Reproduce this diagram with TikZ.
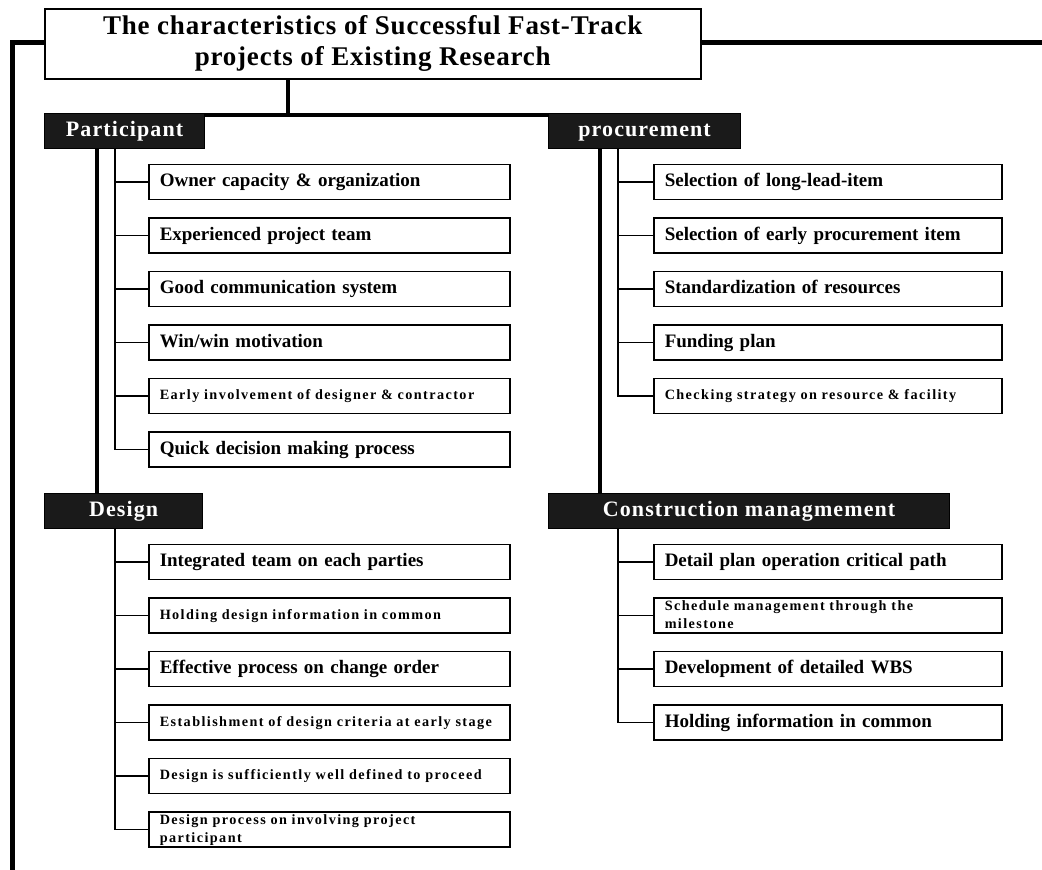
\documentclass[tikz,border=0pt]{standalone}
\usepackage{fontspec}
\setmainfont{Liberation Serif}
\newfontfamily\trackfont{Liberation Serif}[LetterSpace=10]
\newfontfamily\headfont{Liberation Serif}[LetterSpace=5]
\newfontfamily\titlefont{Liberation Serif}[LetterSpace=3]
\newcommand\tightwords{\spaceskip=0.2em plus 0.05em\relax}
\usetikzlibrary{positioning,calc}
\definecolor{chead}{RGB}{26,26,26}

\tikzset{
  titlebox/.style={draw, line width=1.5pt, fill=white, minimum width=656pt,
    minimum height=70pt, align=center, inner sep=0pt,
    font=\titlefont\bfseries\fontsize{27}{31}\selectfont},
  headbox/.style={draw=black, line width=1.2pt, fill=chead, text=white,
    minimum height=35pt, inner sep=0pt, text height=15pt, text depth=5pt,
    font=\headfont\bfseries\fontsize{22}{26}\selectfont},
  itembox/.style={draw, line width=1.5pt, fill=white, minimum height=35pt,
    text width=339pt, inner xsep=11pt, inner ysep=0.5pt, align=left,
    text height=13.5pt, text depth=4.5pt,
    font=\bfseries\fontsize{19}{22}\selectfont\tightwords},
  ritem/.style={itembox, text width=326pt},
  smalltext/.style={text height=10.5pt, text depth=3.5pt,
    font=\trackfont\bfseries\fontsize{14.2}{18}\selectfont},
  twolines/.style={smalltext, text depth=21.5pt},
  framebar/.style={line width=5pt},
  trunk/.style={line width=4pt},
  twig/.style={line width=1.5pt}
}

\begin{document}
\begin{tikzpicture}[x=1pt, y=-1pt, node distance=17pt]
  \useasboundingbox (0,0) rectangle (1042,870);

  % title and the four groups
  \node[titlebox, anchor=north west] (T) at (44,8)
       {The characteristics of Successful Fast-Track\\projects of Existing Research};
  \node[headbox, minimum width=160pt, anchor=north west] (P) at (44,113) {Participant};
  \node[headbox, minimum width=192pt, anchor=north west] (R) at (548,113) {procurement};
  \node[headbox, minimum width=158pt, anchor=north west] (D) at (44,493) {Design};
  \node[headbox, minimum width=401pt, anchor=north west] (C) at (548,493) {Construction managmement};

  % participant
  \node[itembox, anchor=west] (p1) at (148,182) {Owner capacity \& organization};
  \node[itembox, below=of p1] (p2) {Experienced project team};
  \node[itembox, below=of p2] (p3) {Good communication system};
  \node[itembox, below=of p3] (p4) {Win/win motivation};
  \node[itembox, smalltext, below=of p4] (p5) {Early involvement of designer \& contractor};
  \node[itembox, below=of p5] (p6) {Quick decision making process};

  % procurement
  \node[ritem, anchor=west] (r1) at (653,182) {Selection of long-lead-item};
  \node[ritem, below=of r1] (r2) {Selection of early procurement item};
  \node[ritem, below=of r2] (r3) {Standardization of resources};
  \node[ritem, below=of r3] (r4) {Funding plan};
  \node[ritem, smalltext, below=of r4] (r5) {Checking strategy on resource \& facility};

  % design
  \node[itembox, anchor=west] (d1) at (148,562) {Integrated team on each parties};
  \node[itembox, smalltext, below=of d1] (d2) {Holding design information in common};
  \node[itembox, below=of d2] (d3) {Effective process on change order};
  \node[itembox, smalltext, below=of d3] (d4) {Establishment of design criteria at early stage};
  \node[itembox, smalltext, below=of d4] (d5) {Design is sufficiently well defined to proceed};
  \node[itembox, twolines, below=of d5] (d6) {Design process on involving project\\participant};

  % construction management
  \node[ritem, anchor=west] (c1) at (653,562) {Detail plan operation critical path};
  \node[ritem, twolines, below=of c1] (c2) {Schedule management through the\\milestone};
  \node[ritem, below=of c2] (c3) {Development of detailed WBS};
  \node[ritem, below=of c3] (c4) {Holding information in common};

  % outer frame
  \coordinate (fbot) at (12,870);
  \coordinate (fend) at (1042,42);
  \coordinate (hub) at (288,115);
  \draw[framebar] (T.west |- fend) -| (fbot);
  \draw[framebar] (T.east |- fend) -- (fend);

  % title to groups
  \draw[trunk] (T.south -| hub) -- (hub);
  \draw[trunk] (P.north east |- hub) -- (R.north west |- hub);
  \draw[trunk] ($(P.south west)+(53,0)$) -- ($(D.north west)+(53,0)$);
  \draw[trunk] ($(R.south west)+(52,0)$) -- ($(C.north west)+(52,0)$);

  % branches
  \coordinate (ps) at ($(P.south west)+(71,0)$);
  \coordinate (rs) at ($(R.south west)+(70,0)$);
  \coordinate (ds) at ($(D.south west)+(71,0)$);
  \coordinate (cs) at ($(C.south west)+(70,0)$);
  \draw[twig] (ps) |- (p6.west);
  \foreach \n in {p1,p2,p3,p4,p5} \draw[twig] (ps |- \n.west) -- (\n.west);
  \draw[twig] (rs) |- (r5.west);
  \foreach \n in {r1,r2,r3,r4} \draw[twig] (rs |- \n.west) -- (\n.west);
  \draw[twig] (ds) |- (d6.west);
  \foreach \n in {d1,d2,d3,d4,d5} \draw[twig] (ds |- \n.west) -- (\n.west);
  \draw[twig] (cs) |- (c4.west);
  \foreach \n in {c1,c2,c3} \draw[twig] (cs |- \n.west) -- (\n.west);
\end{tikzpicture}
\end{document}
